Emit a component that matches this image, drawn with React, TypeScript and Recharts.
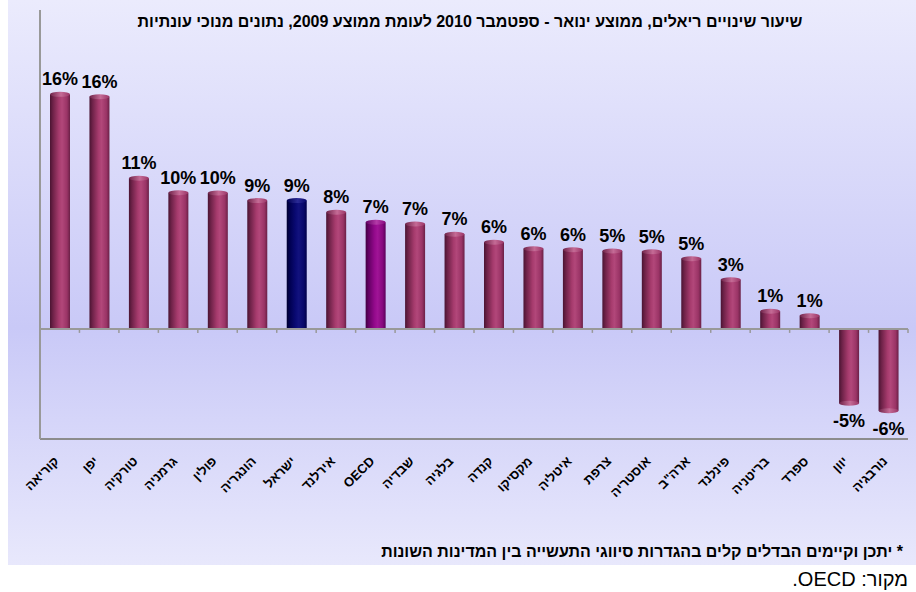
import React from "react";
import { Bar, BarChart, Cell, LabelList, ReferenceLine, XAxis, YAxis } from "recharts";

const countries = [
  "קוריאה", "יפן", "טורקיה", "גרמניה", "פולין", "הונגריה", "ישראל", "אירלנד", "OECD", "שבדיה", "בלגיה",
  "קנדה", "מקסיקו", "איטליה", "צרפת", "אוסטריה", "ארה\"ב", "פינלנד", "בריטניה", "ספרד", "יוון", "נורבגיה",
];
const changes = [
  16.4, 16.24, 10.53, 9.52, 9.5, 8.97, 8.97, 8.15, 7.45, 7.34, 6.62,
  6.06, 5.61, 5.54, 5.45, 5.4, 4.91, 3.44, 1.23, 0.92, -5.2, -5.72,
];
// categories drawn in a different colour
const highlighted: Record<string, string> = { "ישראל": "navy", OECD: "purple" };

const title = "שיעור שינויים ריאלים, ממוצע ינואר - ספטמבר 2010 לעומת ממוצע 2009, נתונים מנוכי עונתיות";
const footnote = "* יתכן וקיימים הבדלים קלים בהגדרות סיווגי התעשייה בין המדינות השונות";
const source = "מקור: OECD.";

const data = countries.map((name, i) => ({ name, value: changes[i] }));
const font = "'Liberation Sans', Arial, 'DejaVu Sans', sans-serif";

function kindOf(name: string) {
  return highlighted[name] ?? "main";
}

function Cylinder(props: any) {
  const { x, y, width, height, payload } = props;
  const top = Math.min(y, y + height);
  const h = Math.abs(height);
  const kind = kindOf(payload.name);
  const capY = payload.value >= 0 ? top : top + h;
  return (
    <g>
      <rect x={x} y={top} width={width} height={h} fill={`url(#body-${kind})`} />
      <ellipse cx={x + width / 2} cy={capY} rx={width / 2} ry={2.5} fill={`url(#cap-${kind})`} />
    </g>
  );
}

function ValueLabel(props: any) {
  const { x, y, width, height, value } = props;
  const top = Math.min(y, y + height);
  const bottom = Math.max(y, y + height);
  const ty = value < 0 ? bottom + 24 : top - 9;
  return (
    <text x={x + width / 2} y={ty} textAnchor="middle" fontFamily={font} fontWeight="bold" fontSize={18} fill="#000">
      {Math.round(value)}%
    </text>
  );
}

function CountryTick({ x, y, payload }: any) {
  const px = x;
  const py = y + 15;
  return (
    <text x={px} y={py} transform={`rotate(-45 ${px} ${py})`} textAnchor="end" fontFamily={font} fontWeight="bold" fontSize={13} fill="#000">
      {payload.value}
    </text>
  );
}

function ZeroLine(props: any) {
  const { x1, x2, y1 } = props;
  const step = (x2 - x1) / countries.length;
  return (
    <g>
      <line x1={x1} x2={x2} y1={y1} y2={y1} stroke="#999" strokeWidth={2} />
      {countries.map((c, i) => (
        <line key={c} x1={x1 + step * (i + 1)} x2={x1 + step * (i + 1)} y1={y1} y2={y1 + 4} stroke="#999" strokeWidth={1.5} />
      ))}
    </g>
  );
}

function Gradients() {
  const bodies: Record<string, string[]> = {
    main: ["#4a1432", "#6e2248", "#a63b6d", "#b2477a", "#9a3466", "#6a2046"],
    navy: ["#00002e", "#000050", "#0a0a74", "#12127e", "#08086a", "#000048"],
    purple: ["#420042", "#640064", "#940a8c", "#a01496", "#86087e", "#5a005a"],
  };
  const caps: Record<string, string> = { main: "#c56b96", navy: "#2a2a96", purple: "#b43aa8" };
  return (
    <svg width={0} height={0} style={{ position: "absolute" }}>
      <defs>
        {Object.keys(bodies).map((k) => (
          <linearGradient key={k} id={`body-${k}`} x1="0" y1="0" x2="1" y2="0">
            {bodies[k].map((c, i) => (
              <stop key={i} offset={[0, 0.15, 0.45, 0.6, 0.85, 1][i]} stopColor={c} />
            ))}
          </linearGradient>
        ))}
        {Object.keys(caps).map((k) => (
          <linearGradient key={k} id={`cap-${k}`} x1="0" y1="0" x2="1" y2="0">
            <stop offset="0" stopColor={bodies[k][1]} />
            <stop offset="0.55" stopColor={caps[k]} />
            <stop offset="1" stopColor={bodies[k][4]} />
          </linearGradient>
        ))}
      </defs>
    </svg>
  );
}

export default function App() {
  return (
    <div style={{ position: "relative", width: 916, height: 592, overflow: "hidden", fontFamily: font }}>
      <style>{`body{margin:0}`}</style>
      <Gradients />
      <div
        style={{
          position: "absolute",
          left: 8,
          top: 0,
          width: 908,
          height: 565,
          background: "linear-gradient(to bottom, #ebebfd 0%, #c9c9f7 58%, #e8e8fc 100%)",
        }}
      />
      <div style={{ position: "absolute", left: 8, top: 0 }}>
        <BarChart width={908} height={565} data={data} margin={{ top: 10, right: 8, bottom: 96, left: 30 }} barSize={20}>
          <XAxis dataKey="name" height={30} axisLine={{ stroke: "#8c8c8c", strokeWidth: 2 }} tickLine={false} tick={<CountryTick />} interval={0} />
          <YAxis width={2} domain={[-7.7, 22.3]} tick={false} tickLine={false} axisLine={{ stroke: "#999", strokeWidth: 2 }} />
          <ReferenceLine y={0} shape={<ZeroLine />} />
          <Bar dataKey="value" shape={<Cylinder />} isAnimationActive={false}>
            {data.map((d) => (
              <Cell key={d.name} fill={kindOf(d.name)} />
            ))}
            <LabelList dataKey="value" content={<ValueLabel />} />
          </Bar>
        </BarChart>
      </div>
      <div dir="rtl" style={{ position: "absolute", left: 0, width: 940, top: 13, textAlign: "center", fontSize: 16, lineHeight: "18px", fontWeight: "bold" }}>
        {title}
      </div>
      <div dir="rtl" style={{ position: "absolute", right: 13, top: 543, fontSize: 16, lineHeight: "18px", fontWeight: "bold", whiteSpace: "nowrap" }}>
        {footnote}
      </div>
      <div dir="rtl" style={{ position: "absolute", right: 8, top: 568, fontSize: 20, lineHeight: "23px", whiteSpace: "nowrap" }}>
        {source}
      </div>
    </div>
  );
}
